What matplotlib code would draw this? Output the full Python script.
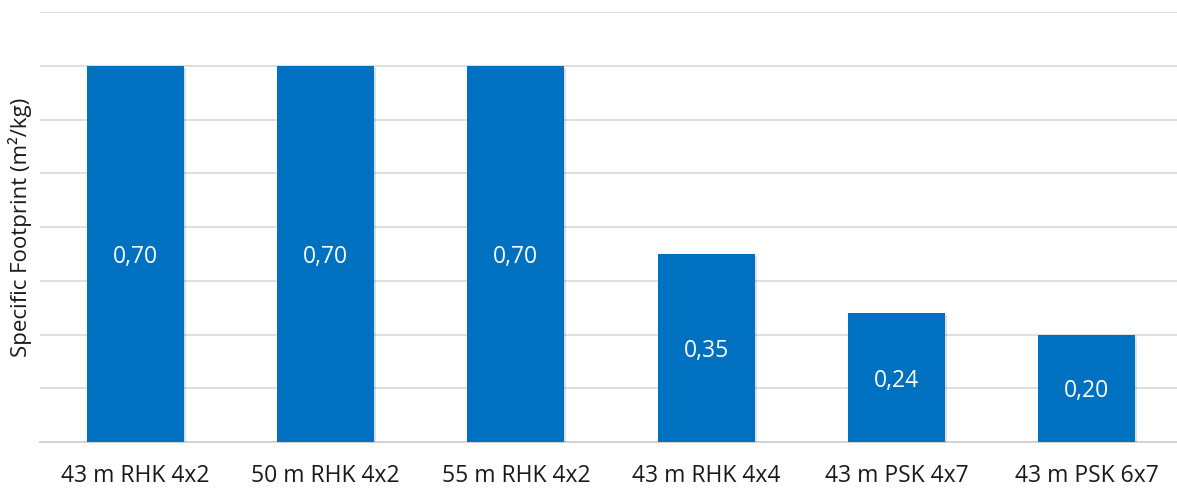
import matplotlib
matplotlib.use("Agg")
import matplotlib.pyplot as plt
import matplotlib.patheffects as pe

categories = ["43 m RHK 4x2", "50 m RHK 4x2", "55 m RHK 4x2",
              "43 m RHK 4x4", "43 m PSK 4x7", "43 m PSK 6x7"]
values = [0.70, 0.70, 0.70, 0.35, 0.24, 0.20]
value_labels = ["0,70", "0,70", "0,70", "0,35", "0,24", "0,20"]

plt.rcParams["font.family"] = ["Open Sans", "DejaVu Sans"]

W, H = 1177, 491
fig = plt.figure(figsize=(W / 100, H / 100), dpi=100)
ax = fig.add_axes([40 / W, 1 - 442 / H, 1142 / W, (442 - 12) / H])

bar_color = "#0070C0"
x = range(len(categories))
bars = ax.bar(x, values, width=0.51, color=bar_color, zorder=3)
for b in bars:
    b.set_path_effects([pe.SimplePatchShadow(offset=(1.5, -1.5), shadow_rgbFace="#000000", alpha=0.12),
                        pe.Normal()])

for xi, v, lab in zip(x, values, value_labels):
    ax.text(xi, v / 2, lab, ha="center", va="center_baseline", color="white", fontsize=16.5, zorder=4)

ax.set_xlim(-0.5, 5.5)
ax.set_ylim(0, 0.8)
ax.set_yticks([i / 10 for i in range(9)])
ax.yaxis.grid(True, color="#dcdcdc", linewidth=1.3, zorder=0)
ax.set_yticklabels([])
ax.tick_params(axis="y", length=0)
ax.set_xticks(list(x))
ax.set_xticklabels(categories, fontsize=16.5, color="#1a1a1a")
ax.tick_params(axis="x", length=0, pad=16)
for s in ["top", "right", "left"]:
    ax.spines[s].set_visible(False)
ax.spines["bottom"].set_color("#d0d0d0")
ax.spines["bottom"].set_linewidth(1.3)
ax.spines["bottom"].set_zorder(2)

ax.set_ylabel("Specific Footprint (m²/kg)", fontsize=16, color="#1a1a1a")
ax.yaxis.set_label_coords(-8 / 1142, 0.5)

fig.savefig("out.png", dpi=100)
